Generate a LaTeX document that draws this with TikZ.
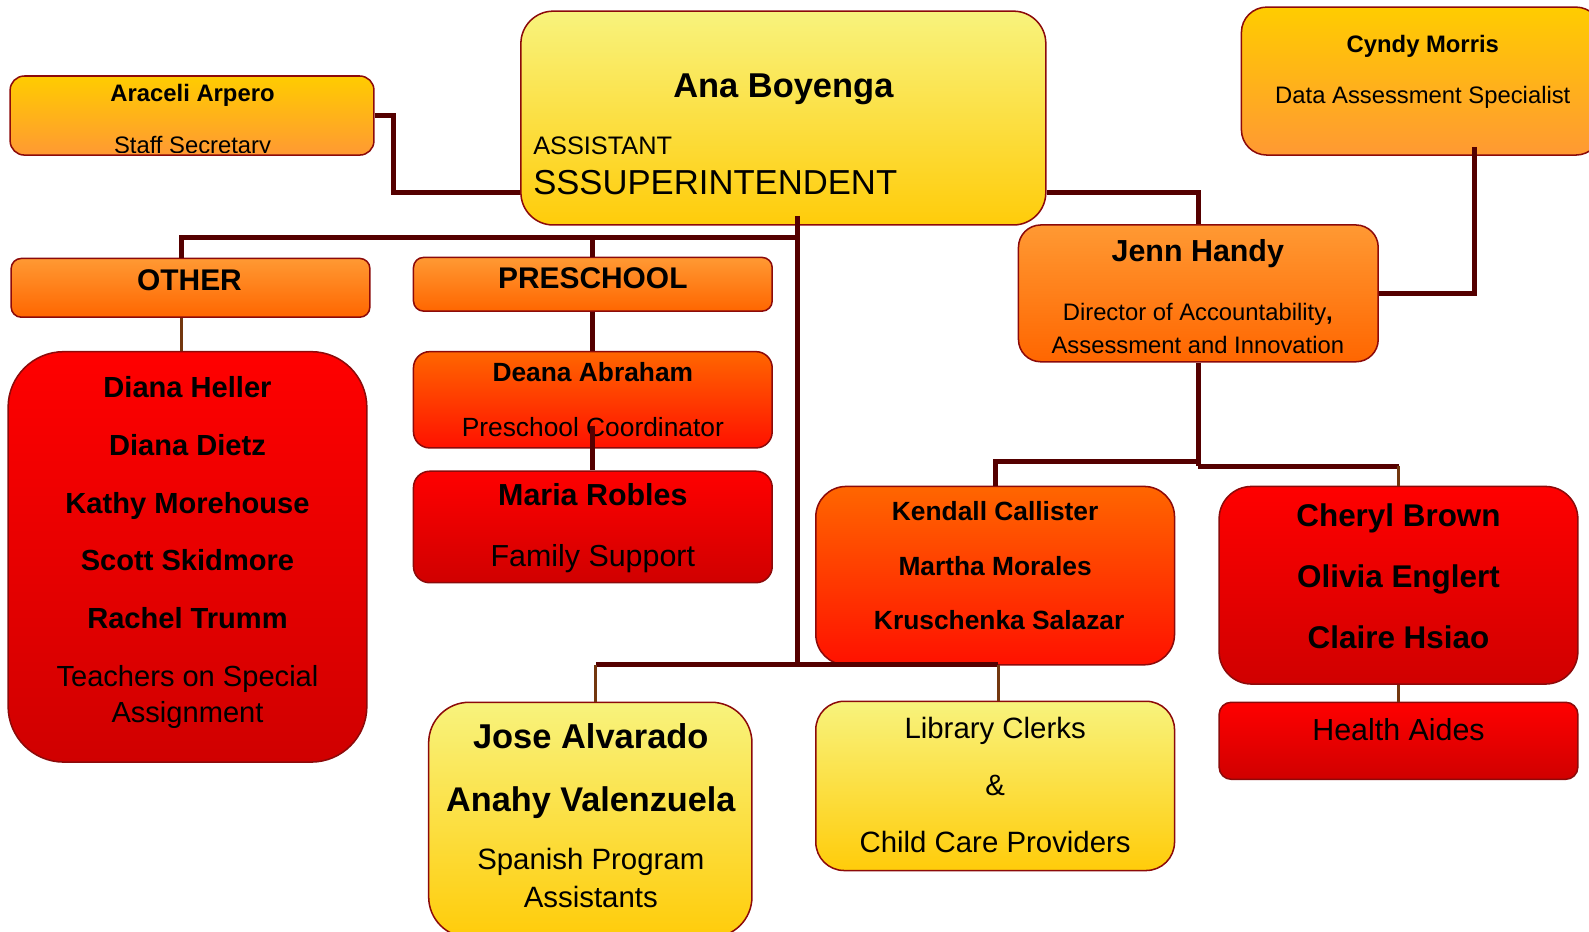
\documentclass[tikz,border=0pt]{standalone}
\usepackage{fontspec}
\setmainfont{Liberation Sans}
\definecolor{bord}{RGB}{140,10,10}
\definecolor{conncol}{RGB}{85,0,0}
\definecolor{thincol}{RGB}{115,55,15}
\definecolor{Y1}{RGB}{248,243,125}
\definecolor{Y2}{RGB}{255,204,10}
\definecolor{G1}{RGB}{255,204,0}
\definecolor{G2}{RGB}{255,153,51}
\definecolor{O1}{RGB}{255,153,51}
\definecolor{O2}{RGB}{255,102,0}
\definecolor{R1}{RGB}{255,102,0}
\definecolor{R2}{RGB}{255,17,0}
\definecolor{D1}{RGB}{255,0,0}
\definecolor{D2}{RGB}{208,0,0}
\tikzset{
 box/.style={draw=bord, line width=1.5pt, inner sep=0pt, rounded corners=#1},
 yel/.style={top color=Y1, bottom color=Y2},
 gold/.style={top color=G1, bottom color=G2},
 orng/.style={top color=O1, bottom color=O2},
 redor/.style={top color=R1, bottom color=R2},
 dred/.style={top color=D1, bottom color=D2},
 conn/.style={draw=conncol, line width=5pt},
 thinc/.style={draw=thincol, line width=3pt},
 T/.style={inner sep=0pt, font=\fontsize{#1}{#1}\selectfont, text height={0.72*#1pt}, text depth=0pt},
 B/.style={T=#1, font=\fontsize{#1}{#1}\selectfont\bfseries},
}
\begin{document}
\begin{tikzpicture}[x=1pt,y=-1pt]
\clip (0,0) rectangle (1568,919);
% boxes
\node[box=14pt, gold, minimum width=359pt, minimum height=78pt] (ara) at (189.5,114) {};
\node[box=32pt, yel, minimum width=518pt, minimum height=211pt] (ana) at (773,116.5) {};
\node[box=25pt, gold, minimum width=355pt, minimum height=146pt] (cyn) at (1402.5,80) {};
\node[box=22pt, orng, minimum width=355pt, minimum height=135pt] (jen) at (1182.5,289.5) {};
\node[box=10pt, orng, minimum width=354pt, minimum height=58pt] (oth) at (188,284) {};
\node[box=10pt, orng, minimum width=354pt, minimum height=53pt] (pre) at (585,280.5) {};
\node[box=55pt, dred, minimum width=354pt, minimum height=405pt] (dia) at (185,549.5) {};
\node[box=16pt, redor, minimum width=354pt, minimum height=95pt] (dea) at (585,394.5) {};
\node[box=16pt, dred, minimum width=354pt, minimum height=110pt] (mar) at (585,520) {};
\node[box=30pt, redor, minimum width=354pt, minimum height=176pt] (ken) at (982,568) {};
\node[box=32pt, dred, minimum width=354pt, minimum height=195pt] (che) at (1380,577.5) {};
\node[box=12pt, dred, minimum width=354pt, minimum height=76pt] (hea) at (1380,731) {};
\node[box=40pt, yel, minimum width=319pt, minimum height=232pt] (jos) at (582.5,809) {};
\node[box=28pt, yel, minimum width=354pt, minimum height=167pt] (lib) at (982,775.5) {};
% texts
\node[B=23.5] (araN) at (190,92) {Araceli Arpero};
\begin{scope}
\clip ([yshift=3pt]ara.south west) rectangle (ara.north east);
\node[T=23.5] (araT) at (190,143) {Staff Secretary};
\end{scope}
\node[B=34] (anaN) at (773,84) {Ana Boyenga};
\node[T=25, anchor=west] (anaT1) at (526,143) {ASSISTANT};
\node[T=34.2, anchor=west] (anaT2) at (526,180) {SSSUPERINTENDENT};
\node[B=23.5] (cynN) at (1404,43) {Cyndy Morris};
\node[T=23.5] (cynT) at (1404,94) {Data Assessment Specialist};
\node[B=30] (jenN) at (1182,247) {Jenn Handy};
\node[T=23.5] (jenT1) at (1182,308) {Director of Accountability\textbf{,}};
\node[T=23.5] (jenT2) at (1182,340) {Assessment and Innovation};
\node[B=29.5] (othN) at (187,276) {OTHER};
\node[B=29.5] (preN) at (585,274) {PRESCHOOL};
\node[B=28.7] (d1) at (185,382) {Diana Heller};
\node[B=28.7] (d2) at (185,439) {Diana Dietz};
\node[B=28.7] (d3) at (185,496) {Kathy Morehouse};
\node[B=28.7] (d4) at (185,553) {Scott Skidmore};
\node[B=28.7] (d5) at (185,610) {Rachel Trumm};
\node[T=28.7] (d6) at (185,667) {Teachers on Special};
\node[T=28.7] (d7) at (185,703) {Assignment};
\node[B=26] (deaN) at (585,367) {Deana Abraham};
\node[T=26] (deaT) at (585,421) {Preschool Coordinator};
\node[B=30] (marN) at (585,488) {Maria Robles};
\node[T=30] (marT) at (585,548) {Family Support};
\node[B=26] (k1n) at (982,504) {Kendall Callister};
\node[B=26] (k2n) at (982,559) {Martha Morales};
\node[B=26] (k3n) at (986,612) {Kruschenka Salazar};
\node[B=31] (c1n) at (1380,508) {Cheryl Brown};
\node[B=31] (c2n) at (1380,569) {Olivia Englert};
\node[B=31] (c3n) at (1380,629) {Claire Hsiao};
\node[T=30] (heaT) at (1380,720) {Health Aides};
\node[B=34] (j1n) at (583,726) {Jose Alvarado};
\node[B=33.8] (j2n) at (583,789) {Anahy Valenzuela};
\node[T=29] (j3n) at (583,848) {Spanish Program};
\node[T=29] (j4n) at (583,885) {Assistants};
\node[T=29] (l1n) at (982,718) {Library Clerks};
\node[T=29] (l2n) at (982,775) {\&};
\node[T=29] (l3n) at (982,831) {Child Care Providers};
% connector points
\coordinate (k1) at (388,190);
\coordinate (t0) at (787,213);
\coordinate (t1) at (787,656);
\coordinate (h1) at (179,234);
\coordinate (h2) at (787,234);
\coordinate (b1) at (588,656);
\coordinate (b2) at (985,656);
\coordinate (c1) at (1455,145);
\coordinate (c2) at (1455,290);
\coordinate (m1) at (585,420);
\coordinate (j1) at (1182,455);
\coordinate (j2) at (1182,460);
\coordinate (j3) at (1380,460);
% connectors
\draw[conn] (ara.east) -| (k1) -- (ana.west |- k1);
\draw[conn] (ana.east |- k1) -| (jen.north);
\draw[conn] (t0) -- (t1);
\draw[conn] (h2) -- (h1) -- (oth.north -| h1);
\draw[conn] (pre.north |- h2) -- (pre.north);
\draw[thinc] (oth.south -| h1) -- (dia.north -| h1);
\draw[conn] (pre.south) -- (dea.north);
\draw[conn] (m1) -- (mar.north);
\draw[conn] (b1) -- (b2);
\draw[thinc] (b1) -- (jos.north -| b1);
\draw[thinc] (b2) -- (lib.north -| b2);
\draw[conn] (c1) -- (c2) -- (jen.east |- c2);
\draw[conn] (jen.south) -- (jen.south |- j2);
\draw[conn] (jen.south |- j1) -| (ken.north);
\draw[conn] (j2) -- (j3);
\draw[thinc] (j3) -- (che.north);
\draw[thinc] (che.south) -- (hea.north);
\end{tikzpicture}
\end{document}
